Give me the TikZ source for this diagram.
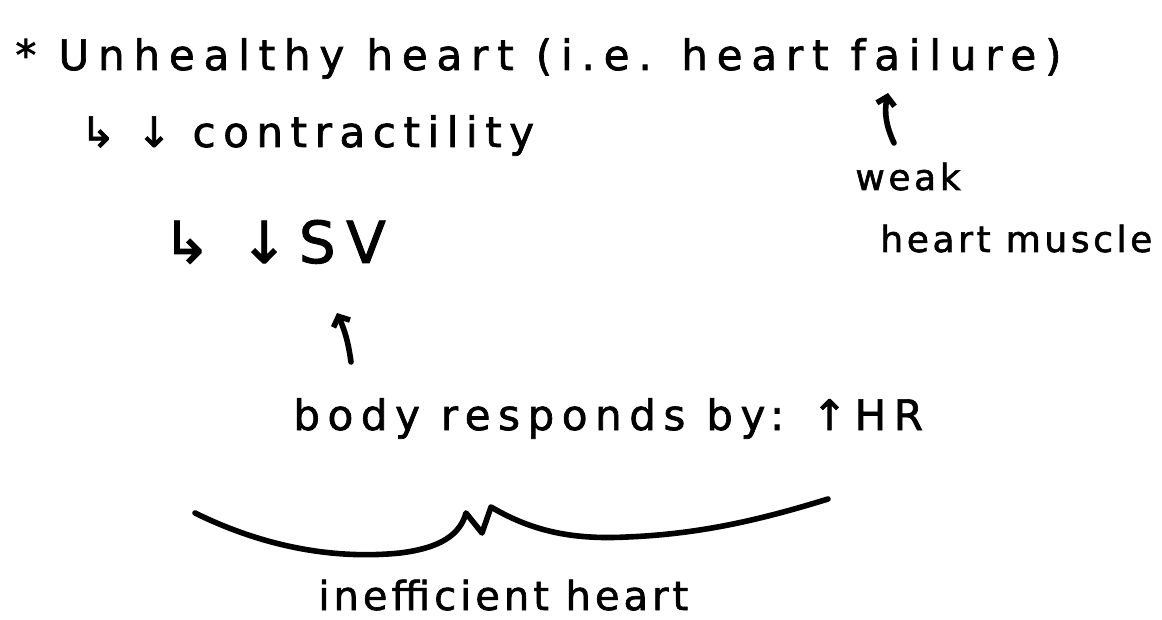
\documentclass[tikz,border=0pt]{standalone}
\usepackage{fontspec}
\newfontfamily\hand[LetterSpace=18,FakeBold=1.6]{DejaVu Sans}
\newfontfamily\handwide[LetterSpace=21,FakeBold=1.6]{DejaVu Sans}
\newfontfamily\handtight[LetterSpace=10,FakeBold=1.6]{DejaVu Sans}
\usetikzlibrary{arrows.meta,positioning,calc}
\tikzset{
  >={Straight Barb[length=4pt,width=9pt]},
  pen/.style={line width=2.8pt,line cap=round,line join=round},
  note/.style={anchor=base west,inner sep=0pt,font=\hand\fontsize{21}{25}\selectfont},
  head note/.style={note,font=\handwide\fontsize{21}{25}\selectfont},
  big note/.style={note,font=\hand\fontsize{29}{33}\selectfont},
  side note/.style={note,font=\handtight\fontsize{18}{22}\selectfont},
  low note/.style={note,font=\handtight\fontsize{20}{24}\selectfont},
}

\begin{document}
\begin{tikzpicture}[x=0.5pt,y=-0.5pt]
  \useasboundingbox[fill=white] (0,0) rectangle (1162,620);
  % main chain of notes
  \node[head note] (title) at (15,70) {* Unhealthy heart (i.e. heart failure)};
  \node[note] (contr) at (80,147) {↳ ↓ contractility};
  \node[big note] (sv) at (162,263) {↳ ↓SV};
  \node[side note] (weak) at (855,190) {weak};
  \node[side note] (muscle) at (880,252) {heart muscle};
  \node[note] (body) at (293,430) {body responds by: ↑HR};
  \node[low note] (ineff) at (318,610) {inefficient heart};
  % arrows up to what they explain
  \draw[pen,->] ($(weak.base west)+(39,-47)$) to[bend left=18] ($(title.base west)+(873,23)$);
  \draw[pen,->] ($(body.base west)+(58,-68)$) to[bend right=8] ($(sv.base west)+(175,50)$);
  % hand drawn brace over the label
  \draw[pen] (195,513) .. controls (260,545) and (330,560) .. (400,553)
    .. controls (440,548) and (460,535) .. (466,513) -- (482,533) -- (491,507)
    .. controls (530,530) and (570,540) .. (627,537)
    .. controls (700,534) and (760,520) .. (828,499);
\end{tikzpicture}
\end{document}
